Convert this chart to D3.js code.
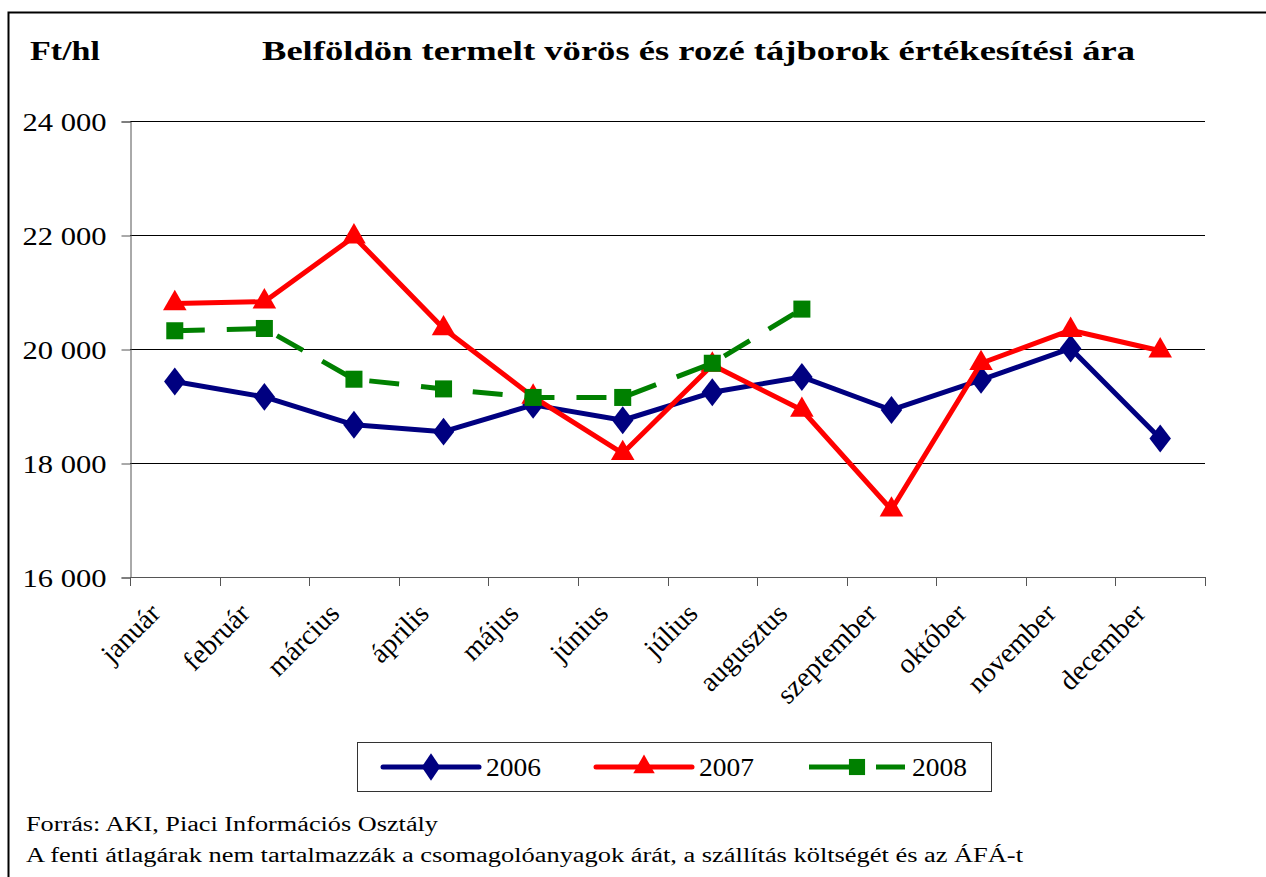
<!DOCTYPE html>
<html>
<head>
<meta charset="utf-8">
<script src="https://cdn.jsdelivr.net/npm/d3@7/dist/d3.min.js"></script>
<style>
  body { margin: 0; background: #fff; }
  text { font-family: "Liberation Serif", "Times New Roman", serif; fill: #000; }
</style>
</head>
<body>
<div id="chart"></div>
<script>
// months on the x axis
var months = ["január", "február", "március", "április", "május", "június",
  "július", "augusztus", "szeptember", "október", "november", "december"];

// Ft/hl
var values2006 = [19430, 19160, 18670, 18550, 19020, 18750, 19240, 19510, 18930, 19460, 20010, 18430];
var values2007 = [20800, 20830, 21970, 20360, 19160, 18170, 19720, 18930, 17180, 19750, 20330, 19970];
var values2008 = [20320, 20360, 19470, 19300, 19150, 19150, 19750, 20700];

var yTicks = [16000, 18000, 20000, 22000, 24000];

var series = [
  {name: "2006", values: values2006, color: "#000080", symbol: d3.symbolDiamond, dash: null},
  {name: "2007", values: values2007, color: "#FF0000", symbol: d3.symbolTriangle, dash: null},
  {name: "2008", values: values2008, color: "#008000", symbol: d3.symbolSquare, dash: "30,22"}
];

var W = 1266, H = 877;
var svg = d3.select("#chart").append("svg")
  .attr("width", W)
  .attr("height", H);

// outer frame (left and top edge only show in the picture)
svg.append("path")
  .attr("d", "M8.5," + H + "V12.5H" + W)
  .attr("fill", "none")
  .attr("stroke", "#000")
  .attr("stroke-width", 2);

// headings
svg.append("text")
  .attr("x", 30).attr("y", 60)
  .attr("font-size", 27).attr("font-weight", "bold")
  .attr("textLength", 70).attr("lengthAdjust", "spacingAndGlyphs")
  .text("Ft/hl");
svg.append("text")
  .attr("x", 262).attr("y", 60)
  .attr("font-size", 28).attr("font-weight", "bold")
  .attr("textLength", 873).attr("lengthAdjust", "spacingAndGlyphs")
  .text("Belföldön termelt vörös és rozé tájborok értékesítési ára");

var margin = {left: 130, right: 1205, top: 121, bottom: 577};

var x = d3.scaleBand()
  .domain(months)
  .range([margin.left, margin.right]);
var y = d3.scaleLinear()
  .domain([16000, 24000])
  .range([margin.bottom, margin.top]);

// gridlines
svg.append("g")
  .selectAll("line")
  .data(yTicks.slice(1))
  .enter().append("line")
  .attr("x1", margin.left).attr("x2", margin.right)
  .attr("y1", function(d) { return Math.round(y(d)) + 0.5; })
  .attr("y2", function(d) { return Math.round(y(d)) + 0.5; })
  .attr("stroke", "#000").attr("stroke-width", 1);

// y axis
var fmt = function(d) { return d3.format(",")(d).replace(",", " "); };
var yAxis = svg.append("g")
  .attr("transform", "translate(" + (margin.left + 0.5) + ",0.5)")
  .call(d3.axisLeft(y).tickValues(yTicks).tickSize(9).tickPadding(0).tickFormat(fmt));
yAxis.select(".domain").attr("stroke", "#555");
yAxis.selectAll(".tick line").attr("stroke", "#555");
yAxis.selectAll(".tick text")
  .attr("x", -24)
  .attr("dy", "0.34em")
  .attr("font-size", 26)
  .attr("textLength", 84).attr("lengthAdjust", "spacingAndGlyphs");

// x axis: ticks at the band edges
var edges = months.map(function(m) { return x(m); }).concat([margin.right]);
svg.append("line")
  .attr("x1", margin.left).attr("x2", margin.right)
  .attr("y1", margin.bottom + 0.5).attr("y2", margin.bottom + 0.5)
  .attr("stroke", "#555");
svg.append("g")
  .selectAll("line")
  .data(edges)
  .enter().append("line")
  .attr("x1", function(d) { return Math.round(d) + 0.5; })
  .attr("x2", function(d) { return Math.round(d) + 0.5; })
  .attr("y1", margin.bottom).attr("y2", margin.bottom + 9)
  .attr("stroke", "#555");

svg.append("g")
  .selectAll("text")
  .data(months)
  .enter().append("text")
  .attr("transform", function(d) {
    return "translate(" + (x(d) + x.bandwidth() / 2 - 13) + "," + (margin.bottom + 38) + ") rotate(-45)";
  })
  .attr("text-anchor", "end")
  .attr("font-size", 28)
  .text(function(d) { return d; });

// lines and markers
var line = d3.line()
  .x(function(d, i) { return x(months[i]) + x.bandwidth() / 2; })
  .y(function(d) { return y(d); });

series.forEach(function(s) {
  var g = svg.append("g");
  g.append("path")
    .datum(s.values)
    .attr("d", line)
    .attr("fill", "none")
    .attr("stroke", s.color)
    .attr("stroke-width", 5)
    .attr("stroke-linejoin", "round")
    .attr("stroke-dasharray", s.dash);
  var size = s.name == "2006" ? 400 : s.name == "2007" ? 240 : 290;
  g.selectAll(".mark")
    .data(s.values)
    .enter().append("path")
    .attr("class", "mark")
    .attr("transform", function(d, i) {
      var sy = s.name == "2006" ? 0.75 : 1;
      return "translate(" + (x(months[i]) + x.bandwidth() / 2) + "," + y(d) + ") scale(1," + sy + ")";
    })
    .attr("d", d3.symbol().type(s.symbol).size(size))
    .attr("fill", s.color);
});

// legend
var legend = svg.append("g");
legend.append("rect")
  .attr("x", 357.5).attr("y", 742.5)
  .attr("width", 634).attr("height", 49)
  .attr("fill", "#fff").attr("stroke", "#333").attr("stroke-width", 1);

var legendX = [383, 596, 809];
series.forEach(function(s, i) {
  var lx = legendX[i], ly = 767;
  legend.append("line")
    .attr("x1", lx).attr("x2", lx + 96)
    .attr("y1", ly).attr("y2", ly)
    .attr("stroke", s.color)
    .attr("stroke-width", 5)
    .attr("stroke-linecap", s.dash ? "butt" : "round")
    .attr("stroke-dasharray", s.dash ? "49,18,30" : null);
  var size = s.name == "2006" ? 300 : s.name == "2007" ? 200 : 260;
  legend.append("path")
    .attr("transform", "translate(" + (lx + 48) + "," + ly + ")" + (s.name == "2006" ? " scale(1,0.85)" : ""))
    .attr("d", d3.symbol().type(s.symbol).size(size))
    .attr("fill", s.color);
  legend.append("text")
    .attr("x", lx + 103).attr("y", ly + 9)
    .attr("font-size", 25)
    .attr("textLength", 55).attr("lengthAdjust", "spacingAndGlyphs")
    .text(s.name);
});

// footnotes
svg.append("text")
  .attr("x", 26).attr("y", 831)
  .attr("font-size", 20)
  .attr("textLength", 412).attr("lengthAdjust", "spacingAndGlyphs")
  .text("Forrás: AKI, Piaci Információs Osztály");
svg.append("text")
  .attr("x", 26).attr("y", 862)
  .attr("font-size", 20)
  .attr("textLength", 997).attr("lengthAdjust", "spacingAndGlyphs")
  .text("A fenti átlagárak nem tartalmazzák a csomagolóanyagok árát, a szállítás költségét és az ÁFÁ-t");
</script>
</body>
</html>
